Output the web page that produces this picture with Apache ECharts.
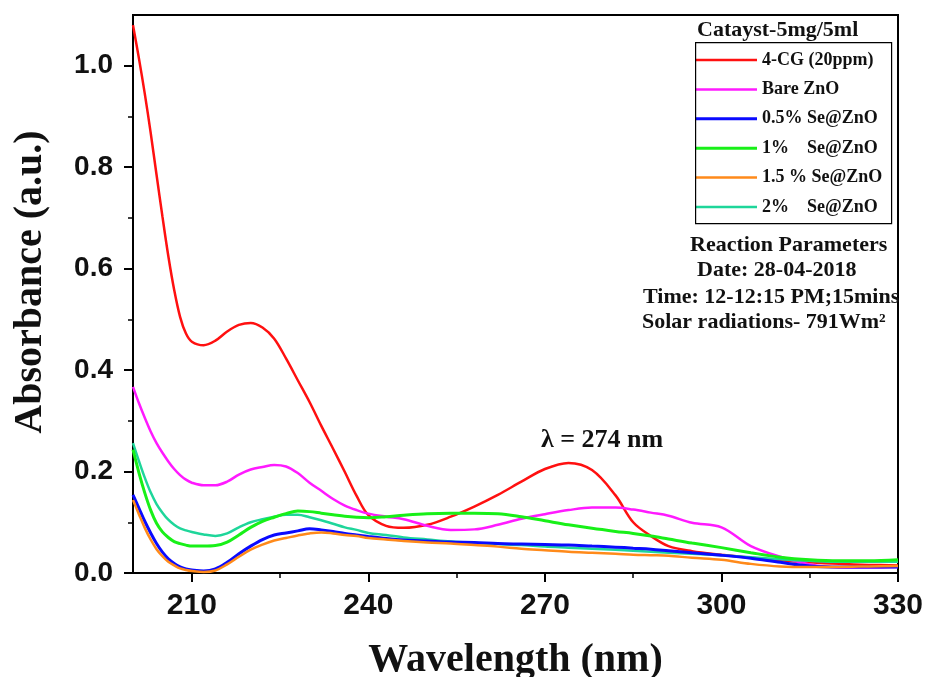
<!DOCTYPE html>
<html>
<head>
<meta charset="utf-8">
<script src="https://cdn.jsdelivr.net/npm/echarts@6/dist/echarts.min.js"></script>
<style>
  html, body { margin: 0; padding: 0; background: #fff; }
  #chart { width: 930px; height: 677px; }
</style>
</head>
<body>
<div id="chart"></div>
<script>
// UV-Vis absorbance spectra of 4-CG degradation over Se@ZnO catalysts
const wavelength = [200, 201, 202, 203, 204, 205, 206, 207, 208, 209, 210, 212, 214, 216, 218, 220, 222, 224, 226, 228, 230, 232, 234, 236, 238, 240, 243, 246, 250, 254, 258, 262, 266, 270, 274, 278, 282, 285, 288, 291, 295, 300, 305, 310, 315, 320, 325, 330];

const cg4 = [1.08, 1.015, 0.945, 0.868, 0.785, 0.703, 0.625, 0.558, 0.505, 0.472, 0.456, 0.449, 0.458, 0.476, 0.489, 0.493, 0.484, 0.462, 0.423, 0.38, 0.337, 0.29, 0.245, 0.199, 0.152, 0.114, 0.093, 0.089, 0.095, 0.111, 0.131, 0.154, 0.18, 0.205, 0.217, 0.203, 0.153, 0.1, 0.073, 0.053, 0.043, 0.036, 0.03, 0.025, 0.021, 0.018, 0.016, 0.015];
const bareZnO = [0.367, 0.335, 0.306, 0.279, 0.256, 0.237, 0.22, 0.205, 0.193, 0.184, 0.178, 0.173, 0.173, 0.18, 0.194, 0.204, 0.209, 0.213, 0.21, 0.197, 0.178, 0.162, 0.146, 0.133, 0.124, 0.117, 0.111, 0.106, 0.093, 0.085, 0.086, 0.095, 0.107, 0.116, 0.124, 0.129, 0.129, 0.125, 0.119, 0.113, 0.099, 0.09, 0.053, 0.032, 0.017, 0.011, 0.011, 0.012];
const se05 = [0.154, 0.128, 0.102, 0.079, 0.058, 0.041, 0.028, 0.019, 0.012, 0.008, 0.006, 0.004, 0.008, 0.021, 0.038, 0.053, 0.066, 0.075, 0.079, 0.083, 0.087, 0.085, 0.082, 0.078, 0.075, 0.072, 0.068, 0.065, 0.063, 0.061, 0.06, 0.058, 0.057, 0.056, 0.055, 0.053, 0.051, 0.049, 0.047, 0.044, 0.04, 0.035, 0.029, 0.021, 0.014, 0.012, 0.012, 0.012];
const se1 = [0.243, 0.198, 0.158, 0.124, 0.098, 0.081, 0.07, 0.062, 0.058, 0.055, 0.053, 0.053, 0.054, 0.061, 0.075, 0.09, 0.102, 0.11, 0.117, 0.122, 0.121, 0.118, 0.115, 0.112, 0.11, 0.109, 0.111, 0.114, 0.117, 0.118, 0.118, 0.117, 0.111, 0.103, 0.095, 0.088, 0.082, 0.078, 0.073, 0.067, 0.059, 0.05, 0.04, 0.031, 0.026, 0.024, 0.024, 0.026];
const se15 = [0.144, 0.116, 0.089, 0.066, 0.047, 0.033, 0.022, 0.015, 0.009, 0.006, 0.004, 0.002, 0.005, 0.017, 0.032, 0.046, 0.056, 0.064, 0.069, 0.074, 0.078, 0.08, 0.078, 0.075, 0.073, 0.069, 0.066, 0.063, 0.06, 0.058, 0.055, 0.052, 0.048, 0.045, 0.042, 0.04, 0.038, 0.036, 0.035, 0.034, 0.03, 0.026, 0.018, 0.013, 0.012, 0.012, 0.013, 0.014];
const se2 = [0.256, 0.221, 0.188, 0.159, 0.136, 0.119, 0.105, 0.095, 0.088, 0.084, 0.081, 0.076, 0.073, 0.078, 0.09, 0.1, 0.106, 0.111, 0.115, 0.115, 0.11, 0.104, 0.097, 0.09, 0.085, 0.079, 0.075, 0.07, 0.066, 0.062, 0.059, 0.057, 0.055, 0.052, 0.05, 0.048, 0.046, 0.044, 0.042, 0.04, 0.038, 0.035, 0.031, 0.027, 0.024, 0.022, 0.022, 0.022];

const seriesNames = ['4-CG (20ppm)', 'Bare ZnO', '0.5% Se@ZnO', '1%    Se@ZnO', '1.5 % Se@ZnO', '2%    Se@ZnO'];
const seriesValues = [cg4, bareZnO, se05, se1, se15, se2];
const seriesColors = ['#ff1010', '#ff1aff', '#0a0aff', '#18f018', '#ff8a1a', '#1ed69a'];
const seriesWidths = [2.5, 2.5, 3, 3, 2.5, 2.5];

const xMajorTicks = [210, 240, 270, 300, 330];
const xMinorTicks = [225, 255, 285, 315];
const yMajorTicks = [0, 0.2, 0.4, 0.6, 0.8, 1.0];
const yMinorTicks = [0.1, 0.3, 0.5, 0.7, 0.9];

const serif = '"Liberation Serif", "Times New Roman", serif';
const sans = '"Liberation Sans", Arial, sans-serif';

const chart = echarts.init(document.getElementById('chart'), null, { renderer: 'canvas' });

const grid = { left: 133, top: 15, width: 765, height: 558 };

// bottom-most traces are drawn last so they sit on top
const drawOrder = [0, 1, 5, 3, 2, 4];

// flat bar icons so each legend key is a plain line of the trace's width
const legendData = seriesNames.map((name, i) => ({
  name: name,
  icon: 'path://M0,0H61V' + seriesWidths[i] + 'H0Z'
}));

const option = {
  animation: false,
  backgroundColor: '#fff',
  grid: Object.assign({
    show: true, borderColor: '#000', borderWidth: 2, backgroundColor: 'transparent',
    outerBoundsMode: 'none', containLabel: false
  }, grid),
  legend: {
    orient: 'vertical',
    left: 696,
    top: 51,
    padding: 0,
    itemWidth: 61,
    itemHeight: 14,
    itemGap: 11.4,
    data: legendData,
    textStyle: { fontFamily: serif, fontWeight: 'bold', fontSize: 18, color: '#111' }
  },
  xAxis: [
    {
      type: 'value', min: 200, max: 330,
      axisLine: { show: true, lineStyle: { color: '#000', width: 2 } },
      axisTick: { show: true, customValues: xMajorTicks, length: 9, lineStyle: { color: '#000', width: 2 } },
      axisLabel: {
        customValues: xMajorTicks, margin: 18,
        fontFamily: sans, fontWeight: 'bold', fontSize: 30, color: '#111'
      },
      splitLine: { show: false },
      name: 'Wavelength (nm)', nameLocation: 'middle', nameGap: 68,
      nameTextStyle: { fontFamily: serif, fontWeight: 'bold', fontSize: 40, color: '#111' }
    },
    {
      type: 'value', min: 200, max: 330, position: 'bottom',
      axisLine: { show: false },
      axisTick: { show: true, customValues: xMinorTicks, length: 5, lineStyle: { color: '#000', width: 1.5 } },
      axisLabel: { show: false },
      splitLine: { show: false }
    }
  ],
  yAxis: [
    {
      type: 'value', min: 0, max: 1.1,
      axisLine: { show: true, lineStyle: { color: '#000', width: 2 } },
      axisTick: { show: true, customValues: yMajorTicks, length: 9, lineStyle: { color: '#000', width: 2 } },
      axisLabel: {
        customValues: yMajorTicks, margin: 20,
        formatter: v => v.toFixed(1),
        fontFamily: sans, fontWeight: 'bold', fontSize: 28, color: '#111'
      },
      splitLine: { show: false }
    },
    {
      type: 'value', min: 0, max: 1.1, position: 'left',
      axisLine: { show: false },
      axisTick: { show: true, customValues: yMinorTicks, length: 5, lineStyle: { color: '#000', width: 1.5 } },
      axisLabel: { show: false },
      splitLine: { show: false }
    }
  ],
  series: drawOrder.map(i => ({
    name: seriesNames[i],
    type: 'line',
    xAxisIndex: 0,
    yAxisIndex: 0,
    smooth: 0.35,
    symbol: 'none',
    color: seriesColors[i],
    lineStyle: { color: seriesColors[i], width: seriesWidths[i] },
    data: wavelength.map((w, k) => [w, seriesValues[i][k]])
  })),
  graphic: [
    {
      type: 'text', x: 31, y: 282, rotation: Math.PI / 2, z: 5,
      style: { text: 'Absorbance (a.u.)', font: 'bold 40px ' + serif, fill: '#111', align: 'center', verticalAlign: 'middle' }
    },
    {
      type: 'rect', left: 695, top: 42, z: 5,
      shape: { width: 196, height: 181 },
      style: { fill: 'transparent', stroke: '#000', lineWidth: 1.2 }
    },
    {
      type: 'text', left: 697, top: 19, z: 5,
      style: { text: 'Catayst-5mg/5ml', font: 'bold 22px ' + serif, fill: '#111' }
    },
    {
      type: 'text', left: 690, top: 234, z: 5,
      style: { text: 'Reaction Parameters', font: 'bold 22px ' + serif, fill: '#111' }
    },
    {
      type: 'text', left: 697, top: 259, z: 5,
      style: { text: 'Date: 28-04-2018', font: 'bold 22px ' + serif, fill: '#111' }
    },
    {
      type: 'text', left: 643, top: 286, z: 5,
      style: { text: 'Time: 12-12:15 PM;15mins', font: 'bold 22px ' + serif, fill: '#111' }
    },
    {
      type: 'text', left: 642, top: 311, z: 5,
      style: { text: 'Solar radiations- 791Wm²', font: 'bold 22px ' + serif, fill: '#111' }
    },
    {
      type: 'text', left: 541, top: 427, z: 5,
      style: { text: 'λ = 274 nm', font: 'bold 26px ' + serif, fill: '#111' }
    }
  ]
};

chart.setOption(option);
</script>
</body>
</html>
